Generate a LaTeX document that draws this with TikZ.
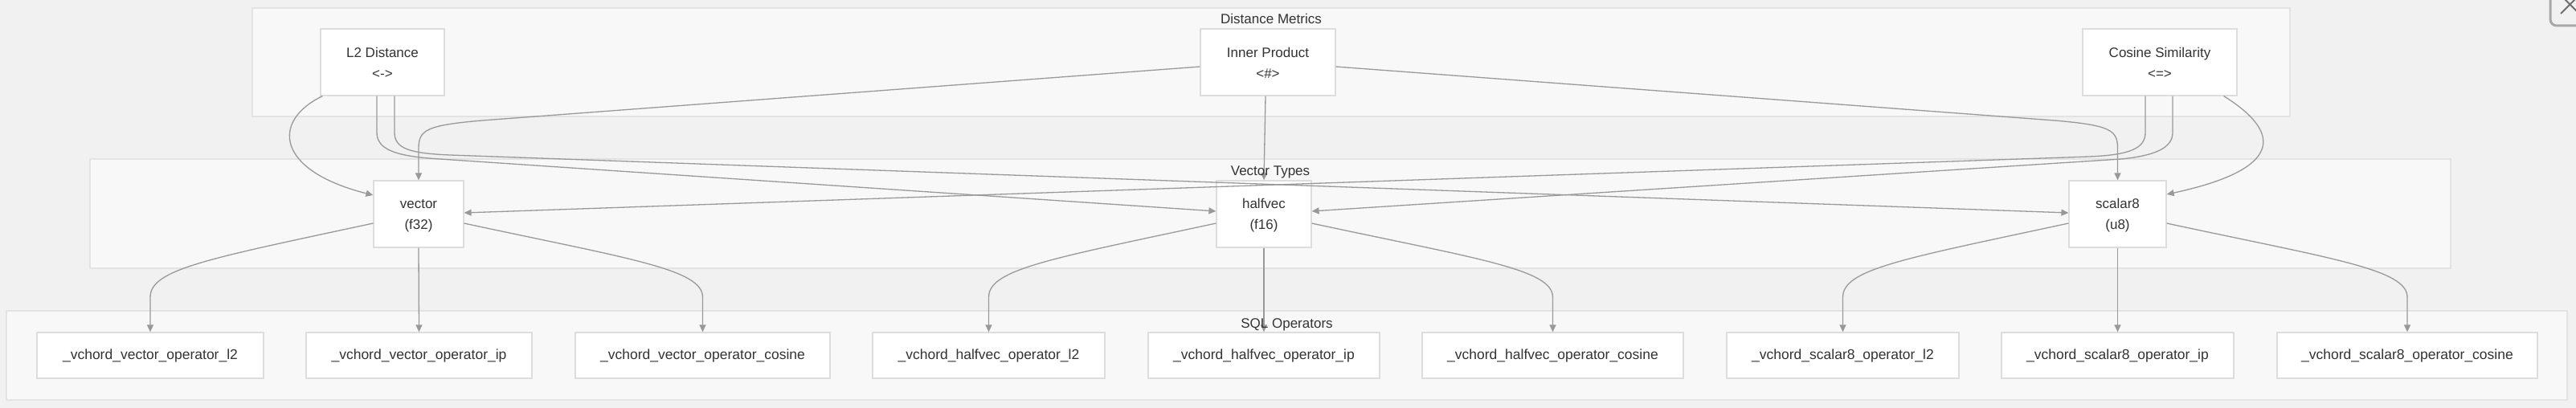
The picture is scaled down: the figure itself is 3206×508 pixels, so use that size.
\documentclass[tikz,border=0pt]{standalone}
\usepackage{fontspec}
\setmainfont{Liberation Sans}
\usetikzlibrary{arrows.meta}
\definecolor{bgc}{HTML}{F1F1F1}
\definecolor{clfill}{HTML}{F8F8F8}
\definecolor{clline}{HTML}{E3E3E3}
\definecolor{ndline}{HTML}{DDDDDD}
\definecolor{edgec}{HTML}{999999}
\definecolor{txtc}{HTML}{333333}
\definecolor{btnline}{HTML}{A8A8A8}
\definecolor{btnx}{HTML}{6E6E6E}
\newcommand{\lnstrut}{\rule[-1pt]{0pt}{17pt}}
\begin{document}
\begin{tikzpicture}[x=1pt,y=-1pt,
  cluster/.style={draw=clline,fill=clfill,line width=1.2pt},
  cltitle/.style={font=\fontsize{17}{20}\selectfont,text=txtc,anchor=base,inner sep=0pt},
  metric/.style={draw=ndline,fill=white,line width=1.2pt,inner sep=0pt,align=center,
    font=\fontsize{17}{26}\selectfont,text=txtc,minimum height=83pt},
  opbox/.style={draw=ndline,fill=white,line width=1.2pt,inner sep=0pt,align=center,
    font=\fontsize{17.5}{20}\selectfont,text=txtc,minimum height=57pt},
  edge/.style={draw=edgec,line width=1.3pt,-{Triangle[length=9pt,width=8pt]}},
]
\useasboundingbox (0,0) rectangle (3206,508);
\clip (0,0) rectangle (3206,508);
\fill[bgc] (0,0) rectangle (3206,508);

% clusters
\draw[cluster] (314,10) rectangle (2850,145);
\draw[cluster] (112,198) rectangle (3050,334);
\draw[cluster] (8,387) rectangle (3195,498);

% metric nodes
\node[metric,minimum width=154pt] (l2) at (476,77.5) {\lnstrut L2 Distance\\\lnstrut <->};
\node[metric,minimum width=168pt] (ip) at (1578,77.5) {\lnstrut Inner Product\\\lnstrut <\#>};
\node[metric,minimum width=192pt] (cos) at (2688,77.5) {\lnstrut Cosine Similarity\\\lnstrut <=>};

% type nodes
\node[metric,minimum width=112pt] (vec) at (521,266.5) {\lnstrut vector\\\lnstrut (f32)};
\node[metric,minimum width=118pt] (hv) at (1573,266.5) {\lnstrut halfvec\\\lnstrut (f16)};
\node[metric,minimum width=121pt] (sc) at (2635.5,266.5) {\lnstrut scalar8\\\lnstrut (u8)};

% operator nodes
\node[opbox,minimum width=282pt] (op1) at (187,442.5) {\_vchord\_vector\_operator\_l2};
\node[opbox,minimum width=281pt] (op2) at (521.5,442.5) {\_vchord\_vector\_operator\_ip};
\node[opbox,minimum width=317pt] (op3) at (874.5,442.5) {\_vchord\_vector\_operator\_cosine};
\node[opbox,minimum width=289pt] (op4) at (1230.5,442.5) {\_vchord\_halfvec\_operator\_l2};
\node[opbox,minimum width=288pt] (op5) at (1573,442.5) {\_vchord\_halfvec\_operator\_ip};
\node[opbox,minimum width=325pt] (op6) at (1932.5,442.5) {\_vchord\_halfvec\_operator\_cosine};
\node[opbox,minimum width=289pt] (op7) at (2293.5,442.5) {\_vchord\_scalar8\_operator\_l2};
\node[opbox,minimum width=289pt] (op8) at (2635.5,442.5) {\_vchord\_scalar8\_operator\_ip};
\node[opbox,minimum width=324pt] (op9) at (2996,442.5) {\_vchord\_scalar8\_operator\_cosine};

% metric -> type edges
\draw[edge] ([xshift=3pt]l2.south west) .. controls (338,150) and (342,212) .. ([yshift=23.5pt]vec.west);
\draw[edge] ([xshift=-7pt]l2.south) -- (469,165) .. controls (469,185) and (490,194) .. (540,197.5) -- ([yshift=3.5pt]hv.west);
\draw[edge] ([xshift=15pt]l2.south) -- (491,165) .. controls (491,185) and (510,191) .. (560,193) -- ([yshift=1.5pt]sc.west);

\draw[edge] ([yshift=-5.5pt]ip.west) -- (600,150) .. controls (530,156) and (521,162) .. (521,185) -- (vec.north);
\draw[edge] ([xshift=-3pt]ip.south) -- (hv.north);
\draw[edge] ([yshift=-5.5pt]ip.east) -- (2557,150) .. controls (2627,156) and (2635.5,162) .. (2635.5,185) -- (sc.north);

\draw[edge] ([xshift=-18pt]cos.south) -- (2670,165) .. controls (2670,185) and (2650,193) .. (2600,195) -- ([yshift=1.5pt]vec.east);
\draw[edge] ([xshift=16pt]cos.south) -- (2704,165) .. controls (2704,185) and (2680,194) .. (2640,198) -- ([yshift=3.5pt]hv.east);
\draw[edge] ([xshift=-17pt]cos.south east) .. controls (2845,168) and (2836,212) .. ([yshift=24.5pt]sc.east);

% type -> operator edges
\draw[edge] ([yshift=-11.5pt]vec.west) .. controls (260,322) and (187,335) .. (187,370) -- (op1.north);
\draw[edge] (vec.south) -- (op2.north);
\draw[edge] ([yshift=-11.5pt]vec.east) .. controls (782,322) and (874.5,335) .. (874.5,370) -- (op3.north);

\draw[edge] ([yshift=-11.5pt]hv.west) .. controls (1309,322) and (1230.5,335) .. (1230.5,370) -- (op4.north);
\draw[edge] (hv.south) -- (op5.north);
\draw[edge] ([yshift=-11.5pt]hv.east) .. controls (1837,322) and (1932.5,335) .. (1932.5,370) -- (op6.north);

\draw[edge] ([yshift=-11.5pt]sc.west) .. controls (2370,322) and (2293.5,335) .. (2293.5,370) -- (op7.north);
\draw[edge] (sc.south) -- (op8.north);
\draw[edge] ([yshift=-11.5pt]sc.east) .. controls (2901,322) and (2996,335) .. (2996,370) -- (op9.north);

% cluster titles (drawn above edges)
\node[cltitle] (tdm) at (1582,29.3) {Distance Metrics};
\node[cltitle] (tvt) at (1581,218) {Vector Types};
\node[cltitle] (tsql) at (1601.5,408.5) {SQL Operators};

% partial close button at the top right corner
\draw[draw=btnline,line width=3pt,rounded corners=8pt,fill=bgc] (3174,-30) rectangle (3250,32);
\draw[btnx,line width=2pt] (3187,17) -- (3210,-6) (3187,-6) -- (3210,17);
\end{tikzpicture}
\end{document}
